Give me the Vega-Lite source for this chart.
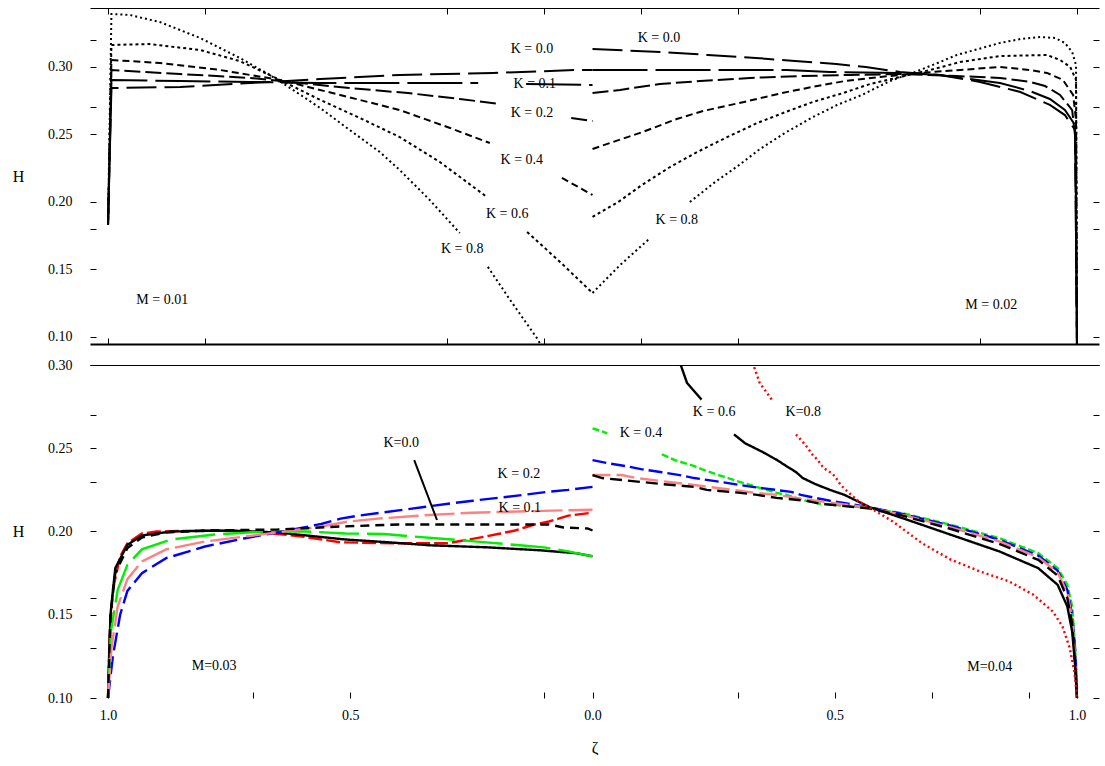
{
"$schema":"https://vega.github.io/schema/vega-lite/v6.json",
"padding":{"left":12,"top":7,"right":0,"bottom":0},
"spacing":13,
"background":"white",
"resolve":{"scale":{"strokeDash":"independent","color":"independent"}},
"config":{"view":{"stroke":null},"axis":{"labelFont":"Liberation Serif","labelFontSize":14,"titleFont":"Liberation Serif","titleFontSize":16,"titleFontWeight":"normal","labelColor":"black","tickColor":"black","domainColor":"black","titleColor":"black","grid":false}},
"datasets":{
"top":[
{"k":"0.8","p":"L0.8a","z":-1,"H":0.183},{"k":"0.8","p":"L0.8a","z":-0.993,"H":0.3393},{"k":"0.8","p":"L0.8a","z":-0.955,"H":0.3385},{"k":"0.8","p":"L0.8a","z":-0.893,"H":0.3333},{"k":"0.8","p":"L0.8a","z":-0.81,"H":0.3215},{"k":"0.8","p":"L0.8a","z":-0.728,"H":0.3067},{"k":"0.8","p":"L0.8a","z":-0.666,"H":0.2941},{"k":"0.8","p":"L0.8a","z":-0.624,"H":0.2844},{"k":"0.8","p":"L0.8a","z":-0.562,"H":0.2696},{"k":"0.8","p":"L0.8a","z":-0.501,"H":0.2533},{"k":"0.8","p":"L0.8a","z":-0.439,"H":0.237},{"k":"0.8","p":"L0.8a","z":-0.398,"H":0.2237},{"k":"0.8","p":"L0.8a","z":-0.336,"H":0.2015},{"k":"0.8","p":"L0.8a","z":-0.274,"H":0.177},
{"k":"0.8","p":"L0.8b","z":-0.216,"H":0.1519},{"k":"0.8","p":"L0.8b","z":-0.17,"H":0.1274},{"k":"0.8","p":"L0.8b","z":-0.115,"H":0.0993},{"k":"0.8","p":"L0.8b","z":-0.098,"H":0.0889},
{"k":"0.6","p":"L0.6a","z":-1,"H":0.183},{"k":"0.6","p":"L0.6a","z":-0.993,"H":0.3163},{"k":"0.6","p":"L0.6a","z":-0.915,"H":0.317},{"k":"0.6","p":"L0.6a","z":-0.81,"H":0.3126},{"k":"0.6","p":"L0.6a","z":-0.728,"H":0.3044},{"k":"0.6","p":"L0.6a","z":-0.645,"H":0.2904},{"k":"0.6","p":"L0.6a","z":-0.562,"H":0.2756},{"k":"0.6","p":"L0.6a","z":-0.48,"H":0.2622},{"k":"0.6","p":"L0.6a","z":-0.398,"H":0.2481},{"k":"0.6","p":"L0.6a","z":-0.315,"H":0.2296},{"k":"0.6","p":"L0.6a","z":-0.218,"H":0.2037},
{"k":"0.6","p":"L0.6b","z":-0.135,"H":0.1778},{"k":"0.6","p":"L0.6b","z":-0.067,"H":0.1556},{"k":"0.6","p":"L0.6b","z":0,"H":0.1326},
{"k":"0.4","p":"L0.4a","z":-1,"H":0.183},{"k":"0.4","p":"L0.4a","z":-0.993,"H":0.3052},{"k":"0.4","p":"L0.4a","z":-0.893,"H":0.303},{"k":"0.4","p":"L0.4a","z":-0.769,"H":0.2978},{"k":"0.4","p":"L0.4a","z":-0.645,"H":0.2904},{"k":"0.4","p":"L0.4a","z":-0.521,"H":0.2793},{"k":"0.4","p":"L0.4a","z":-0.398,"H":0.2681},{"k":"0.4","p":"L0.4a","z":-0.294,"H":0.2548},{"k":"0.4","p":"L0.4a","z":-0.212,"H":0.2437},
{"k":"0.4","p":"L0.4b","z":-0.063,"H":0.2178},{"k":"0.4","p":"L0.4b","z":0,"H":0.2052},
{"k":"0.2","p":"L0.2a","z":-1,"H":0.183},{"k":"0.2","p":"L0.2a","z":-0.993,"H":0.2978},{"k":"0.2","p":"L0.2a","z":-0.851,"H":0.2948},{"k":"0.2","p":"L0.2a","z":-0.707,"H":0.2919},{"k":"0.2","p":"L0.2a","z":-0.604,"H":0.2881},{"k":"0.2","p":"L0.2a","z":-0.501,"H":0.2844},{"k":"0.2","p":"L0.2a","z":-0.381,"H":0.2807},{"k":"0.2","p":"L0.2a","z":-0.274,"H":0.2763},{"k":"0.2","p":"L0.2a","z":-0.191,"H":0.2726},
{"k":"0.2","p":"L0.2b","z":-0.044,"H":0.2622},{"k":"0.2","p":"L0.2b","z":0,"H":0.26},
{"k":"0.1","p":"L0.1a","z":-1,"H":0.183},{"k":"0.1","p":"L0.1a","z":-0.993,"H":0.2904},{"k":"0.1","p":"L0.1a","z":-0.851,"H":0.2896},{"k":"0.1","p":"L0.1a","z":-0.707,"H":0.2889},{"k":"0.1","p":"L0.1a","z":-0.562,"H":0.2881},{"k":"0.1","p":"L0.1a","z":-0.35,"H":0.2881},{"k":"0.1","p":"L0.1a","z":-0.236,"H":0.2881},
{"k":"0.1","p":"L0.1b","z":-0.137,"H":0.2874},{"k":"0.1","p":"L0.1b","z":0,"H":0.2867},
{"k":"0.0","p":"L0.0","z":-1,"H":0.183},{"k":"0.0","p":"L0.0","z":-0.993,"H":0.2844},{"k":"0.0","p":"L0.0","z":-0.851,"H":0.2852},{"k":"0.0","p":"L0.0","z":-0.707,"H":0.2881},{"k":"0.0","p":"L0.0","z":-0.562,"H":0.2911},{"k":"0.0","p":"L0.0","z":-0.398,"H":0.2941},{"k":"0.0","p":"L0.0","z":-0.205,"H":0.2956},{"k":"0.0","p":"L0.0","z":-0.03,"H":0.2978},{"k":"0.0","p":"L0.0","z":0,"H":0.2978},
{"k":"0.0","p":"R0.0","z":0,"H":0.3133},{"k":"0.0","p":"R0.0","z":0.143,"H":0.3111},{"k":"0.0","p":"R0.0","z":0.238,"H":0.3089},{"k":"0.0","p":"R0.0","z":0.337,"H":0.3067},{"k":"0.0","p":"R0.0","z":0.418,"H":0.3044},{"k":"0.0","p":"R0.0","z":0.503,"H":0.3022},{"k":"0.0","p":"R0.0","z":0.564,"H":0.3},{"k":"0.0","p":"R0.0","z":0.635,"H":0.2963},{"k":"0.0","p":"R0.0","z":0.717,"H":0.2941},{"k":"0.0","p":"R0.0","z":0.8,"H":0.2889},{"k":"0.0","p":"R0.0","z":0.883,"H":0.2815},{"k":"0.0","p":"R0.0","z":0.944,"H":0.2719},{"k":"0.0","p":"R0.0","z":0.975,"H":0.2644},{"k":"0.0","p":"R0.0","z":0.996,"H":0.2533},{"k":"0.0","p":"R0.0","z":1.0,"H":0.09},
{"k":"0.1","p":"R0.1","z":0,"H":0.2978},{"k":"0.1","p":"R0.1","z":0.193,"H":0.2978},{"k":"0.1","p":"R0.1","z":0.401,"H":0.2978},{"k":"0.1","p":"R0.1","z":0.49,"H":0.2963},{"k":"0.1","p":"R0.1","z":0.635,"H":0.2956},{"k":"0.1","p":"R0.1","z":0.717,"H":0.2941},{"k":"0.1","p":"R0.1","z":0.841,"H":0.2881},{"k":"0.1","p":"R0.1","z":0.903,"H":0.2822},{"k":"0.1","p":"R0.1","z":0.944,"H":0.2763},{"k":"0.1","p":"R0.1","z":0.975,"H":0.2681},{"k":"0.1","p":"R0.1","z":0.996,"H":0.257},{"k":"0.1","p":"R0.1","z":1.0,"H":0.09},
{"k":"0.2","p":"R0.2","z":0,"H":0.2807},{"k":"0.2","p":"R0.2","z":0.057,"H":0.283},{"k":"0.2","p":"R0.2","z":0.139,"H":0.2874},{"k":"0.2","p":"R0.2","z":0.222,"H":0.2896},{"k":"0.2","p":"R0.2","z":0.325,"H":0.2919},{"k":"0.2","p":"R0.2","z":0.428,"H":0.2933},{"k":"0.2","p":"R0.2","z":0.531,"H":0.2941},{"k":"0.2","p":"R0.2","z":0.635,"H":0.2948},{"k":"0.2","p":"R0.2","z":0.752,"H":0.2933},{"k":"0.2","p":"R0.2","z":0.841,"H":0.2919},{"k":"0.2","p":"R0.2","z":0.903,"H":0.2889},{"k":"0.2","p":"R0.2","z":0.934,"H":0.2859},{"k":"0.2","p":"R0.2","z":0.965,"H":0.2793},{"k":"0.2","p":"R0.2","z":0.99,"H":0.2681},{"k":"0.2","p":"R0.2","z":0.997,"H":0.2459},{"k":"0.2","p":"R0.2","z":1.0,"H":0.09},
{"k":"0.4","p":"R0.4","z":0,"H":0.2393},{"k":"0.4","p":"R0.4","z":0.104,"H":0.2519},{"k":"0.4","p":"R0.4","z":0.174,"H":0.2615},{"k":"0.4","p":"R0.4","z":0.228,"H":0.2674},{"k":"0.4","p":"R0.4","z":0.313,"H":0.2741},{"k":"0.4","p":"R0.4","z":0.391,"H":0.2807},{"k":"0.4","p":"R0.4","z":0.453,"H":0.2852},{"k":"0.4","p":"R0.4","z":0.521,"H":0.2896},{"k":"0.4","p":"R0.4","z":0.594,"H":0.2926},{"k":"0.4","p":"R0.4","z":0.676,"H":0.2956},{"k":"0.4","p":"R0.4","z":0.759,"H":0.2978},{"k":"0.4","p":"R0.4","z":0.841,"H":0.3},{"k":"0.4","p":"R0.4","z":0.903,"H":0.2978},{"k":"0.4","p":"R0.4","z":0.938,"H":0.2956},{"k":"0.4","p":"R0.4","z":0.971,"H":0.2904},{"k":"0.4","p":"R0.4","z":0.992,"H":0.2793},{"k":"0.4","p":"R0.4","z":0.998,"H":0.2607},{"k":"0.4","p":"R0.4","z":1.0,"H":0.09},
{"k":"0.6","p":"R0.6","z":0,"H":0.1889},{"k":"0.6","p":"R0.6","z":0.053,"H":0.2},{"k":"0.6","p":"R0.6","z":0.102,"H":0.2126},{"k":"0.6","p":"R0.6","z":0.16,"H":0.2259},{"k":"0.6","p":"R0.6","z":0.216,"H":0.237},{"k":"0.6","p":"R0.6","z":0.278,"H":0.2481},{"k":"0.6","p":"R0.6","z":0.34,"H":0.2585},{"k":"0.6","p":"R0.6","z":0.404,"H":0.2674},{"k":"0.6","p":"R0.6","z":0.455,"H":0.2741},{"k":"0.6","p":"R0.6","z":0.517,"H":0.2807},{"k":"0.6","p":"R0.6","z":0.573,"H":0.2874},{"k":"0.6","p":"R0.6","z":0.635,"H":0.2926},{"k":"0.6","p":"R0.6","z":0.697,"H":0.2978},{"k":"0.6","p":"R0.6","z":0.759,"H":0.3037},{"k":"0.6","p":"R0.6","z":0.841,"H":0.3081},{"k":"0.6","p":"R0.6","z":0.938,"H":0.3089},{"k":"0.6","p":"R0.6","z":0.965,"H":0.3052},{"k":"0.6","p":"R0.6","z":0.986,"H":0.3},{"k":"0.6","p":"R0.6","z":0.998,"H":0.2904},{"k":"0.6","p":"R0.6","z":1.0,"H":0.09},
{"k":"0.8","p":"R0.8a","z":0,"H":0.1326},{"k":"0.8","p":"R0.8a","z":0.057,"H":0.1533},{"k":"0.8","p":"R0.8a","z":0.119,"H":0.1733},
{"k":"0.8","p":"R0.8b","z":0.201,"H":0.2},{"k":"0.8","p":"R0.8b","z":0.253,"H":0.2148},{"k":"0.8","p":"R0.8b","z":0.3,"H":0.2267},{"k":"0.8","p":"R0.8b","z":0.346,"H":0.2393},{"k":"0.8","p":"R0.8b","z":0.397,"H":0.2511},{"k":"0.8","p":"R0.8b","z":0.451,"H":0.2622},{"k":"0.8","p":"R0.8b","z":0.505,"H":0.2719},{"k":"0.8","p":"R0.8b","z":0.556,"H":0.2793},{"k":"0.8","p":"R0.8b","z":0.614,"H":0.2896},{"k":"0.8","p":"R0.8b","z":0.666,"H":0.2963},{"k":"0.8","p":"R0.8b","z":0.707,"H":0.3022},{"k":"0.8","p":"R0.8b","z":0.752,"H":0.3089},{"k":"0.8","p":"R0.8b","z":0.796,"H":0.3133},{"k":"0.8","p":"R0.8b","z":0.841,"H":0.3178},{"k":"0.8","p":"R0.8b","z":0.883,"H":0.3207},{"k":"0.8","p":"R0.8b","z":0.924,"H":0.3222},{"k":"0.8","p":"R0.8b","z":0.955,"H":0.3215},{"k":"0.8","p":"R0.8b","z":0.975,"H":0.3178},{"k":"0.8","p":"R0.8b","z":0.99,"H":0.3111},{"k":"0.8","p":"R0.8b","z":0.998,"H":0.3015},{"k":"0.8","p":"R0.8b","z":1.0,"H":0.09}
],
"bot":[
{"k":"0.8","p":"L0.8","z":-1,"H":0.1},{"k":"0.8","p":"L0.8","z":-0.997,"H":0.135},{"k":"0.8","p":"L0.8","z":-0.99,"H":0.165},{"k":"0.8","p":"L0.8","z":-0.975,"H":0.185},{"k":"0.8","p":"L0.8","z":-0.96,"H":0.1929},{"k":"0.8","p":"L0.8","z":-0.93,"H":0.1988},{"k":"0.8","p":"L0.8","z":-0.9,"H":0.2},{"k":"0.8","p":"L0.8","z":-0.8,"H":0.2006},{"k":"0.8","p":"L0.8","z":-0.7,"H":0.2},{"k":"0.8","p":"L0.8","z":-0.6,"H":0.197},{"k":"0.8","p":"L0.8","z":-0.52,"H":0.1935},{"k":"0.8","p":"L0.8","z":-0.4,"H":0.1929},{"k":"0.8","p":"L0.8","z":-0.3,"H":0.1929},{"k":"0.8","p":"L0.8","z":-0.255,"H":0.1952},{"k":"0.8","p":"L0.8","z":-0.22,"H":0.197},{"k":"0.8","p":"L0.8","z":-0.19,"H":0.1988},{"k":"0.8","p":"L0.8","z":-0.16,"H":0.2006},{"k":"0.8","p":"L0.8","z":-0.14,"H":0.2024},{"k":"0.8","p":"L0.8","z":-0.12,"H":0.2042},{"k":"0.8","p":"L0.8","z":-0.09,"H":0.206},{"k":"0.8","p":"L0.8","z":-0.07,"H":0.2077},{"k":"0.8","p":"L0.8","z":-0.05,"H":0.2095},{"k":"0.8","p":"L0.8","z":0,"H":0.2113},
{"k":"0.6","p":"L0.6","z":-1,"H":0.1},{"k":"0.6","p":"L0.6","z":-0.995,"H":0.15},{"k":"0.6","p":"L0.6","z":-0.985,"H":0.178},{"k":"0.6","p":"L0.6","z":-0.96,"H":0.192},{"k":"0.6","p":"L0.6","z":-0.93,"H":0.1976},{"k":"0.6","p":"L0.6","z":-0.87,"H":0.2},{"k":"0.6","p":"L0.6","z":-0.75,"H":0.2006},{"k":"0.6","p":"L0.6","z":-0.65,"H":0.1994},{"k":"0.6","p":"L0.6","z":-0.55,"H":0.1964},{"k":"0.6","p":"L0.6","z":-0.51,"H":0.1952},{"k":"0.6","p":"L0.6","z":-0.42,"H":0.1935},{"k":"0.6","p":"L0.6","z":-0.335,"H":0.1917},{"k":"0.6","p":"L0.6","z":-0.218,"H":0.1905},{"k":"0.6","p":"L0.6","z":-0.108,"H":0.1887},{"k":"0.6","p":"L0.6","z":-0.032,"H":0.1869},{"k":"0.6","p":"L0.6","z":0,"H":0.1851},
{"k":"0.4","p":"L0.4","z":-1,"H":0.1},{"k":"0.4","p":"L0.4","z":-0.994,"H":0.14},{"k":"0.4","p":"L0.4","z":-0.98,"H":0.165},{"k":"0.4","p":"L0.4","z":-0.96,"H":0.18},{"k":"0.4","p":"L0.4","z":-0.93,"H":0.1893},{"k":"0.4","p":"L0.4","z":-0.87,"H":0.1952},{"k":"0.4","p":"L0.4","z":-0.78,"H":0.1982},{"k":"0.4","p":"L0.4","z":-0.68,"H":0.2},{"k":"0.4","p":"L0.4","z":-0.59,"H":0.2},{"k":"0.4","p":"L0.4","z":-0.51,"H":0.1988},{"k":"0.4","p":"L0.4","z":-0.43,"H":0.1985},{"k":"0.4","p":"L0.4","z":-0.37,"H":0.197},{"k":"0.4","p":"L0.4","z":-0.29,"H":0.1952},{"k":"0.4","p":"L0.4","z":-0.22,"H":0.1935},{"k":"0.4","p":"L0.4","z":-0.15,"H":0.1917},{"k":"0.4","p":"L0.4","z":-0.1,"H":0.1905},{"k":"0.4","p":"L0.4","z":-0.05,"H":0.1881},{"k":"0.4","p":"L0.4","z":0,"H":0.1851},
{"k":"0.2","p":"L0.2","z":-1,"H":0.1},{"k":"0.2","p":"L0.2","z":-0.99,"H":0.125},{"k":"0.2","p":"L0.2","z":-0.975,"H":0.15},{"k":"0.2","p":"L0.2","z":-0.96,"H":0.1643},{"k":"0.2","p":"L0.2","z":-0.93,"H":0.175},{"k":"0.2","p":"L0.2","z":-0.88,"H":0.184},{"k":"0.2","p":"L0.2","z":-0.8,"H":0.191},{"k":"0.2","p":"L0.2","z":-0.72,"H":0.1958},{"k":"0.2","p":"L0.2","z":-0.64,"H":0.2},{"k":"0.2","p":"L0.2","z":-0.56,"H":0.2045},{"k":"0.2","p":"L0.2","z":-0.52,"H":0.2077},{"k":"0.2","p":"L0.2","z":-0.484,"H":0.2095},{"k":"0.2","p":"L0.2","z":-0.437,"H":0.2113},{"k":"0.2","p":"L0.2","z":-0.389,"H":0.2131},{"k":"0.2","p":"L0.2","z":-0.344,"H":0.2149},{"k":"0.2","p":"L0.2","z":-0.298,"H":0.2167},{"k":"0.2","p":"L0.2","z":-0.247,"H":0.2185},{"k":"0.2","p":"L0.2","z":-0.195,"H":0.2202},{"k":"0.2","p":"L0.2","z":-0.143,"H":0.222},{"k":"0.2","p":"L0.2","z":-0.094,"H":0.2238},{"k":"0.2","p":"L0.2","z":-0.05,"H":0.225},{"k":"0.2","p":"L0.2","z":0,"H":0.2268},
{"k":"0.1","p":"L0.1","z":-1,"H":0.1},{"k":"0.1","p":"L0.1","z":-0.993,"H":0.13},{"k":"0.1","p":"L0.1","z":-0.98,"H":0.155},{"k":"0.1","p":"L0.1","z":-0.96,"H":0.1714},{"k":"0.1","p":"L0.1","z":-0.93,"H":0.182},{"k":"0.1","p":"L0.1","z":-0.88,"H":0.1893},{"k":"0.1","p":"L0.1","z":-0.8,"H":0.194},{"k":"0.1","p":"L0.1","z":-0.7,"H":0.1976},{"k":"0.1","p":"L0.1","z":-0.62,"H":0.2006},{"k":"0.1","p":"L0.1","z":-0.56,"H":0.203},{"k":"0.1","p":"L0.1","z":-0.504,"H":0.206},{"k":"0.1","p":"L0.1","z":-0.443,"H":0.2077},{"k":"0.1","p":"L0.1","z":-0.36,"H":0.2095},{"k":"0.1","p":"L0.1","z":-0.249,"H":0.2113},{"k":"0.1","p":"L0.1","z":-0.13,"H":0.2122},{"k":"0.1","p":"L0.1","z":0,"H":0.2131},
{"k":"0.0","p":"L0.0","z":-1,"H":0.1},{"k":"0.0","p":"L0.0","z":-0.995,"H":0.15},{"k":"0.0","p":"L0.0","z":-0.985,"H":0.175},{"k":"0.0","p":"L0.0","z":-0.96,"H":0.19},{"k":"0.0","p":"L0.0","z":-0.93,"H":0.1964},{"k":"0.0","p":"L0.0","z":-0.88,"H":0.1994},{"k":"0.0","p":"L0.0","z":-0.8,"H":0.2006},{"k":"0.0","p":"L0.0","z":-0.65,"H":0.2012},{"k":"0.0","p":"L0.0","z":-0.52,"H":0.203},{"k":"0.0","p":"L0.0","z":-0.4,"H":0.2042},{"k":"0.0","p":"L0.0","z":-0.2,"H":0.2042},{"k":"0.0","p":"L0.0","z":-0.09,"H":0.2042},{"k":"0.0","p":"L0.0","z":-0.06,"H":0.2024},{"k":"0.0","p":"L0.0","z":-0.01,"H":0.2018},{"k":"0.0","p":"L0.0","z":0,"H":0.2006},
{"k":"0.4","p":"R0.4a","z":0,"H":0.2619},{"k":"0.4","p":"R0.4a","z":0.02,"H":0.2601},{"k":"0.4","p":"R0.4a","z":0.03,"H":0.259},
{"k":"0.4","p":"R0.4b","z":0.143,"H":0.2464},{"k":"0.4","p":"R0.4b","z":0.17,"H":0.2429},{"k":"0.4","p":"R0.4b","z":0.19,"H":0.2411},{"k":"0.4","p":"R0.4b","z":0.21,"H":0.2393},{"k":"0.4","p":"R0.4b","z":0.225,"H":0.2375},{"k":"0.4","p":"R0.4b","z":0.243,"H":0.2357},{"k":"0.4","p":"R0.4b","z":0.26,"H":0.2339},{"k":"0.4","p":"R0.4b","z":0.28,"H":0.2321},{"k":"0.4","p":"R0.4b","z":0.297,"H":0.2304},{"k":"0.4","p":"R0.4b","z":0.318,"H":0.2286},{"k":"0.4","p":"R0.4b","z":0.338,"H":0.2268},{"k":"0.4","p":"R0.4b","z":0.36,"H":0.225},{"k":"0.4","p":"R0.4b","z":0.38,"H":0.2232},{"k":"0.4","p":"R0.4b","z":0.4,"H":0.222},{"k":"0.4","p":"R0.4b","z":0.42,"H":0.2202},{"k":"0.4","p":"R0.4b","z":0.44,"H":0.2185},{"k":"0.4","p":"R0.4b","z":0.47,"H":0.2167},{"k":"0.4","p":"R0.4b","z":0.5,"H":0.216},{"k":"0.4","p":"R0.4b","z":0.573,"H":0.214},{"k":"0.4","p":"R0.4b","z":0.64,"H":0.211},{"k":"0.4","p":"R0.4b","z":0.74,"H":0.204},{"k":"0.4","p":"R0.4b","z":0.84,"H":0.196},{"k":"0.4","p":"R0.4b","z":0.92,"H":0.187},{"k":"0.4","p":"R0.4b","z":0.96,"H":0.178},{"k":"0.4","p":"R0.4b","z":0.98,"H":0.168},{"k":"0.4","p":"R0.4b","z":0.99,"H":0.155},{"k":"0.4","p":"R0.4b","z":0.995,"H":0.135},{"k":"0.4","p":"R0.4b","z":1.0,"H":0.11},
{"k":"0.2","p":"R0.2","z":0,"H":0.2429},{"k":"0.2","p":"R0.2","z":0.03,"H":0.2411},{"k":"0.2","p":"R0.2","z":0.068,"H":0.2393},{"k":"0.2","p":"R0.2","z":0.1,"H":0.2375},{"k":"0.2","p":"R0.2","z":0.14,"H":0.2357},{"k":"0.2","p":"R0.2","z":0.18,"H":0.2339},{"k":"0.2","p":"R0.2","z":0.21,"H":0.2321},{"k":"0.2","p":"R0.2","z":0.25,"H":0.2304},{"k":"0.2","p":"R0.2","z":0.29,"H":0.2286},{"k":"0.2","p":"R0.2","z":0.33,"H":0.2268},{"k":"0.2","p":"R0.2","z":0.41,"H":0.2238},{"k":"0.2","p":"R0.2","z":0.43,"H":0.222},{"k":"0.2","p":"R0.2","z":0.46,"H":0.2202},{"k":"0.2","p":"R0.2","z":0.49,"H":0.2185},{"k":"0.2","p":"R0.2","z":0.573,"H":0.2145},{"k":"0.2","p":"R0.2","z":0.64,"H":0.2105},{"k":"0.2","p":"R0.2","z":0.74,"H":0.2035},{"k":"0.2","p":"R0.2","z":0.84,"H":0.195},{"k":"0.2","p":"R0.2","z":0.92,"H":0.1855},{"k":"0.2","p":"R0.2","z":0.96,"H":0.1765},{"k":"0.2","p":"R0.2","z":0.98,"H":0.165},{"k":"0.2","p":"R0.2","z":0.99,"H":0.15},{"k":"0.2","p":"R0.2","z":0.996,"H":0.13},{"k":"0.2","p":"R0.2","z":1.0,"H":0.105},
{"k":"0.1","p":"R0.1","z":0,"H":0.2339},{"k":"0.1","p":"R0.1","z":0.06,"H":0.2339},{"k":"0.1","p":"R0.1","z":0.09,"H":0.2321},{"k":"0.1","p":"R0.1","z":0.14,"H":0.2304},{"k":"0.1","p":"R0.1","z":0.19,"H":0.2286},{"k":"0.1","p":"R0.1","z":0.24,"H":0.2268},{"k":"0.1","p":"R0.1","z":0.29,"H":0.225},{"k":"0.1","p":"R0.1","z":0.335,"H":0.2232},{"k":"0.1","p":"R0.1","z":0.38,"H":0.222},{"k":"0.1","p":"R0.1","z":0.42,"H":0.2202},{"k":"0.1","p":"R0.1","z":0.46,"H":0.2185},{"k":"0.1","p":"R0.1","z":0.573,"H":0.2142},{"k":"0.1","p":"R0.1","z":0.64,"H":0.21},{"k":"0.1","p":"R0.1","z":0.74,"H":0.2025},{"k":"0.1","p":"R0.1","z":0.84,"H":0.194},{"k":"0.1","p":"R0.1","z":0.92,"H":0.1845},{"k":"0.1","p":"R0.1","z":0.96,"H":0.1755},{"k":"0.1","p":"R0.1","z":0.98,"H":0.163},{"k":"0.1","p":"R0.1","z":0.99,"H":0.148},{"k":"0.1","p":"R0.1","z":0.996,"H":0.125},{"k":"0.1","p":"R0.1","z":1.0,"H":0.1},
{"k":"0.0","p":"R0.0","z":0,"H":0.2339},{"k":"0.0","p":"R0.0","z":0.02,"H":0.2321},{"k":"0.0","p":"R0.0","z":0.14,"H":0.2286},{"k":"0.0","p":"R0.0","z":0.21,"H":0.2268},{"k":"0.0","p":"R0.0","z":0.236,"H":0.225},{"k":"0.0","p":"R0.0","z":0.305,"H":0.2232},{"k":"0.0","p":"R0.0","z":0.34,"H":0.222},{"k":"0.0","p":"R0.0","z":0.38,"H":0.2202},{"k":"0.0","p":"R0.0","z":0.44,"H":0.2185},{"k":"0.0","p":"R0.0","z":0.47,"H":0.2167},{"k":"0.0","p":"R0.0","z":0.573,"H":0.2138},{"k":"0.0","p":"R0.0","z":0.64,"H":0.2095},{"k":"0.0","p":"R0.0","z":0.74,"H":0.2015},{"k":"0.0","p":"R0.0","z":0.84,"H":0.1925},{"k":"0.0","p":"R0.0","z":0.92,"H":0.183},{"k":"0.0","p":"R0.0","z":0.96,"H":0.1735},{"k":"0.0","p":"R0.0","z":0.98,"H":0.16},{"k":"0.0","p":"R0.0","z":0.99,"H":0.145},{"k":"0.0","p":"R0.0","z":0.996,"H":0.12},{"k":"0.0","p":"R0.0","z":1.0,"H":0.1},
{"k":"0.6","p":"R0.6a","z":0.17,"H":0.31},{"k":"0.6","p":"R0.6a","z":0.195,"H":0.2893},{"k":"0.6","p":"R0.6a","z":0.225,"H":0.2792},
{"k":"0.6","p":"R0.6b","z":0.292,"H":0.2583},{"k":"0.6","p":"R0.6b","z":0.315,"H":0.253},{"k":"0.6","p":"R0.6b","z":0.352,"H":0.2476},{"k":"0.6","p":"R0.6b","z":0.381,"H":0.2429},{"k":"0.6","p":"R0.6b","z":0.4,"H":0.2393},{"k":"0.6","p":"R0.6b","z":0.42,"H":0.2357},{"k":"0.6","p":"R0.6b","z":0.434,"H":0.2321},{"k":"0.6","p":"R0.6b","z":0.459,"H":0.2286},{"k":"0.6","p":"R0.6b","z":0.49,"H":0.225},{"k":"0.6","p":"R0.6b","z":0.52,"H":0.222},{"k":"0.6","p":"R0.6b","z":0.573,"H":0.2145},{"k":"0.6","p":"R0.6b","z":0.64,"H":0.208},{"k":"0.6","p":"R0.6b","z":0.74,"H":0.198},{"k":"0.6","p":"R0.6b","z":0.84,"H":0.188},{"k":"0.6","p":"R0.6b","z":0.92,"H":0.178},{"k":"0.6","p":"R0.6b","z":0.96,"H":0.168},{"k":"0.6","p":"R0.6b","z":0.98,"H":0.155},{"k":"0.6","p":"R0.6b","z":0.99,"H":0.14},{"k":"0.6","p":"R0.6b","z":0.996,"H":0.12},{"k":"0.6","p":"R0.6b","z":1.0,"H":0.1},
{"k":"0.8","p":"R0.8a","z":0.32,"H":0.31},{"k":"0.8","p":"R0.8a","z":0.345,"H":0.2893},{"k":"0.8","p":"R0.8a","z":0.37,"H":0.2792},
{"k":"0.8","p":"R0.8b","z":0.42,"H":0.2583},{"k":"0.8","p":"R0.8b","z":0.44,"H":0.2518},{"k":"0.8","p":"R0.8b","z":0.455,"H":0.2458},{"k":"0.8","p":"R0.8b","z":0.465,"H":0.2429},{"k":"0.8","p":"R0.8b","z":0.477,"H":0.2381},{"k":"0.8","p":"R0.8b","z":0.49,"H":0.2357},{"k":"0.8","p":"R0.8b","z":0.5,"H":0.2333},{"k":"0.8","p":"R0.8b","z":0.512,"H":0.228},{"k":"0.8","p":"R0.8b","z":0.53,"H":0.223},{"k":"0.8","p":"R0.8b","z":0.55,"H":0.218},{"k":"0.8","p":"R0.8b","z":0.573,"H":0.2142},{"k":"0.8","p":"R0.8b","z":0.62,"H":0.206},{"k":"0.8","p":"R0.8b","z":0.68,"H":0.193},{"k":"0.8","p":"R0.8b","z":0.74,"H":0.183},{"k":"0.8","p":"R0.8b","z":0.8,"H":0.176},{"k":"0.8","p":"R0.8b","z":0.86,"H":0.17},{"k":"0.8","p":"R0.8b","z":0.91,"H":0.162},{"k":"0.8","p":"R0.8b","z":0.95,"H":0.152},{"k":"0.8","p":"R0.8b","z":0.97,"H":0.143},{"k":"0.8","p":"R0.8b","z":0.985,"H":0.13},{"k":"0.8","p":"R0.8b","z":0.995,"H":0.115},{"k":"0.8","p":"R0.8b","z":1.0,"H":0.1}
],
"topLab":[
{"z":-0.125,"H":0.3133,"t":"K = 0.0"},{"z":-0.119,"H":0.2874,"t":"K = 0.1"},{"z":-0.125,"H":0.2659,"t":"K = 0.2"},{"z":-0.146,"H":0.2311,"t":"K = 0.4"},{"z":-0.176,"H":0.1911,"t":"K = 0.6"},{"z":-0.269,"H":0.1652,"t":"K = 0.8"},{"z":0.137,"H":0.3215,"t":"K = 0.0"},{"z":0.174,"H":0.1867,"t":"K = 0.8"},{"z":-0.888,"H":0.1274,"t":"M = 0.01"},{"z":0.823,"H":0.1237,"t":"M = 0.02"}
],
"botLab":[
{"z":-0.395,"H":0.2532,"t":"K=0.0"},{"z":-0.152,"H":0.2345,"t":"K = 0.2"},{"z":-0.15,"H":0.2141,"t":"K = 0.1"},{"z":0.1,"H":0.2592,"t":"K = 0.4"},{"z":0.251,"H":0.2718,"t":"K = 0.6"},{"z":0.435,"H":0.2718,"t":"K=0.8"},{"z":-0.781,"H":0.1192,"t":"M=0.03"},{"z":0.82,"H":0.1186,"t":"M=0.04"}
],
"lead":[{"z":-0.368,"H":0.2429},{"z":-0.321,"H":0.2069}]
},
"vconcat":[
{"width":1009,"height":336,
"layer":[
{"data":{"name":"top"},"mark":{"type":"line","clip":true,"strokeWidth":2,"color":"black"},
"encoding":{
"x":{"field":"z","type":"quantitative","scale":{"domain":[-1.0372,1.0454],"nice":false,"zero":false},"axis":{"orient":"bottom","labels":false,"tickSize":-6,"values":[-1,-0.8,-0.3,-0.1,0.1,0.3,0.8,1],"title":null,"domainWidth":2}},
"y":{"field":"H","type":"quantitative","scale":{"domain":[0.0948,0.3437],"nice":false,"zero":false},"axis":{"orient":"left","domain":false,"tickSize":-6,"labelPadding":24,"values":[0.1,0.15,0.18,0.2,0.25,0.27,0.3,0.32],"labelExpr":"abs(datum.value*20-round(datum.value*20))<0.001 ? format(datum.value,'.2f') : ''","title":"H","titleAngle":0,"titleX":-72,"titleY":168,"titleAlign":"center","titleBaseline":"middle"}},
"detail":{"field":"p"},
"strokeDash":{"field":"k","type":"nominal","scale":{"domain":["0.0","0.1","0.2","0.4","0.6","0.8"],"range":[[30,8],[55,8],[16,5],[7,4],[3,3],[2,3]]},"legend":null}
}},
{"data":{"name":"topLab"},"mark":{"type":"text","font":"Liberation Serif","fontSize":14,"color":"black"},
"encoding":{
"x":{"field":"z","type":"quantitative","scale":{"domain":[-1.0372,1.0454],"nice":false,"zero":false},"axis":{"orient":"top","labels":false,"tickSize":-6,"values":[-1,-0.8,-0.3,-0.1,0.1,0.3,0.8,1],"title":null}},
"y":{"field":"H","type":"quantitative","scale":{"domain":[0.0948,0.3437],"nice":false,"zero":false},"axis":{"orient":"right","labels":false,"domain":false,"tickSize":-6,"values":[0.1,0.15,0.18,0.2,0.25,0.27,0.3,0.32],"title":null}},
"text":{"field":"t"}
}}
]},
{"width":1009,"height":333,
"layer":[
{"data":{"name":"bot"},"mark":{"type":"line","clip":true,"strokeWidth":2.4},
"encoding":{
"x":{"field":"z","type":"quantitative","scale":{"domain":[-1.0372,1.0454],"nice":false,"zero":false},"axis":{"orient":"bottom","domain":false,"tickSize":-6,"labelPadding":16,"values":[-1,-0.7,-0.5,-0.1,0,0.3,0.5,0.7,0.9,1],"labelExpr":"(abs(datum.value)==1 || abs(datum.value)==0.5 || datum.value==0) ? format(abs(datum.value),'.1f') : ''","title":"ζ","titlePadding":17}},
"y":{"field":"H","type":"quantitative","scale":{"domain":[0.1,0.3],"nice":false,"zero":false},"axis":{"orient":"left","domain":false,"tickSize":-6,"labelPadding":24,"values":[0.1,0.13,0.15,0.16,0.2,0.23,0.25,0.27,0.3],"labelExpr":"abs(datum.value*20-round(datum.value*20))<0.001 ? format(datum.value,'.2f') : ''","title":"H","titleAngle":0,"titleX":-72,"titleY":166,"titleAlign":"center","titleBaseline":"middle"}},
"detail":{"field":"p"},
"color":{"field":"k","type":"nominal","scale":{"domain":["0.0","0.1","0.2","0.4","0.6","0.8"],"range":["#000000","#ff8080","#0000ff","#00ee00","#000000","#ff0000"]},"legend":null},
"strokeDash":{"field":"p","type":"nominal","scale":{"domain":["L0.8","L0.6","L0.4","L0.2","L0.1","L0.0","R0.4a","R0.4b","R0.2","R0.1","R0.0","R0.6a","R0.6b","R0.8a","R0.8b"],"range":[[14,4],[1,0],[40,8],[18,6],[30,6],[9,6],[7,3],[7,3],[14,5],[18,6],[12,6],[1,0],[1,0],[2,3],[2,3]]},"legend":null}
}},
{"data":{"name":"lead"},"mark":{"type":"line","color":"black","strokeWidth":2},
"encoding":{"x":{"field":"z","type":"quantitative","axis":null},"y":{"field":"H","type":"quantitative","axis":null}}},
{"data":{"name":"botLab"},"mark":{"type":"text","font":"Liberation Serif","fontSize":14,"color":"black"},
"encoding":{
"x":{"field":"z","type":"quantitative","scale":{"domain":[-1.0372,1.0454],"nice":false,"zero":false},"axis":{"orient":"top","labels":false,"ticks":false,"title":null}},
"y":{"field":"H","type":"quantitative","scale":{"domain":[0.1,0.3],"nice":false,"zero":false},"axis":{"orient":"right","labels":false,"domain":false,"tickSize":-6,"values":[0.1,0.13,0.15,0.16,0.2,0.23,0.25,0.27,0.3],"title":null}},
"text":{"field":"t"}
}}
]}
]
}
